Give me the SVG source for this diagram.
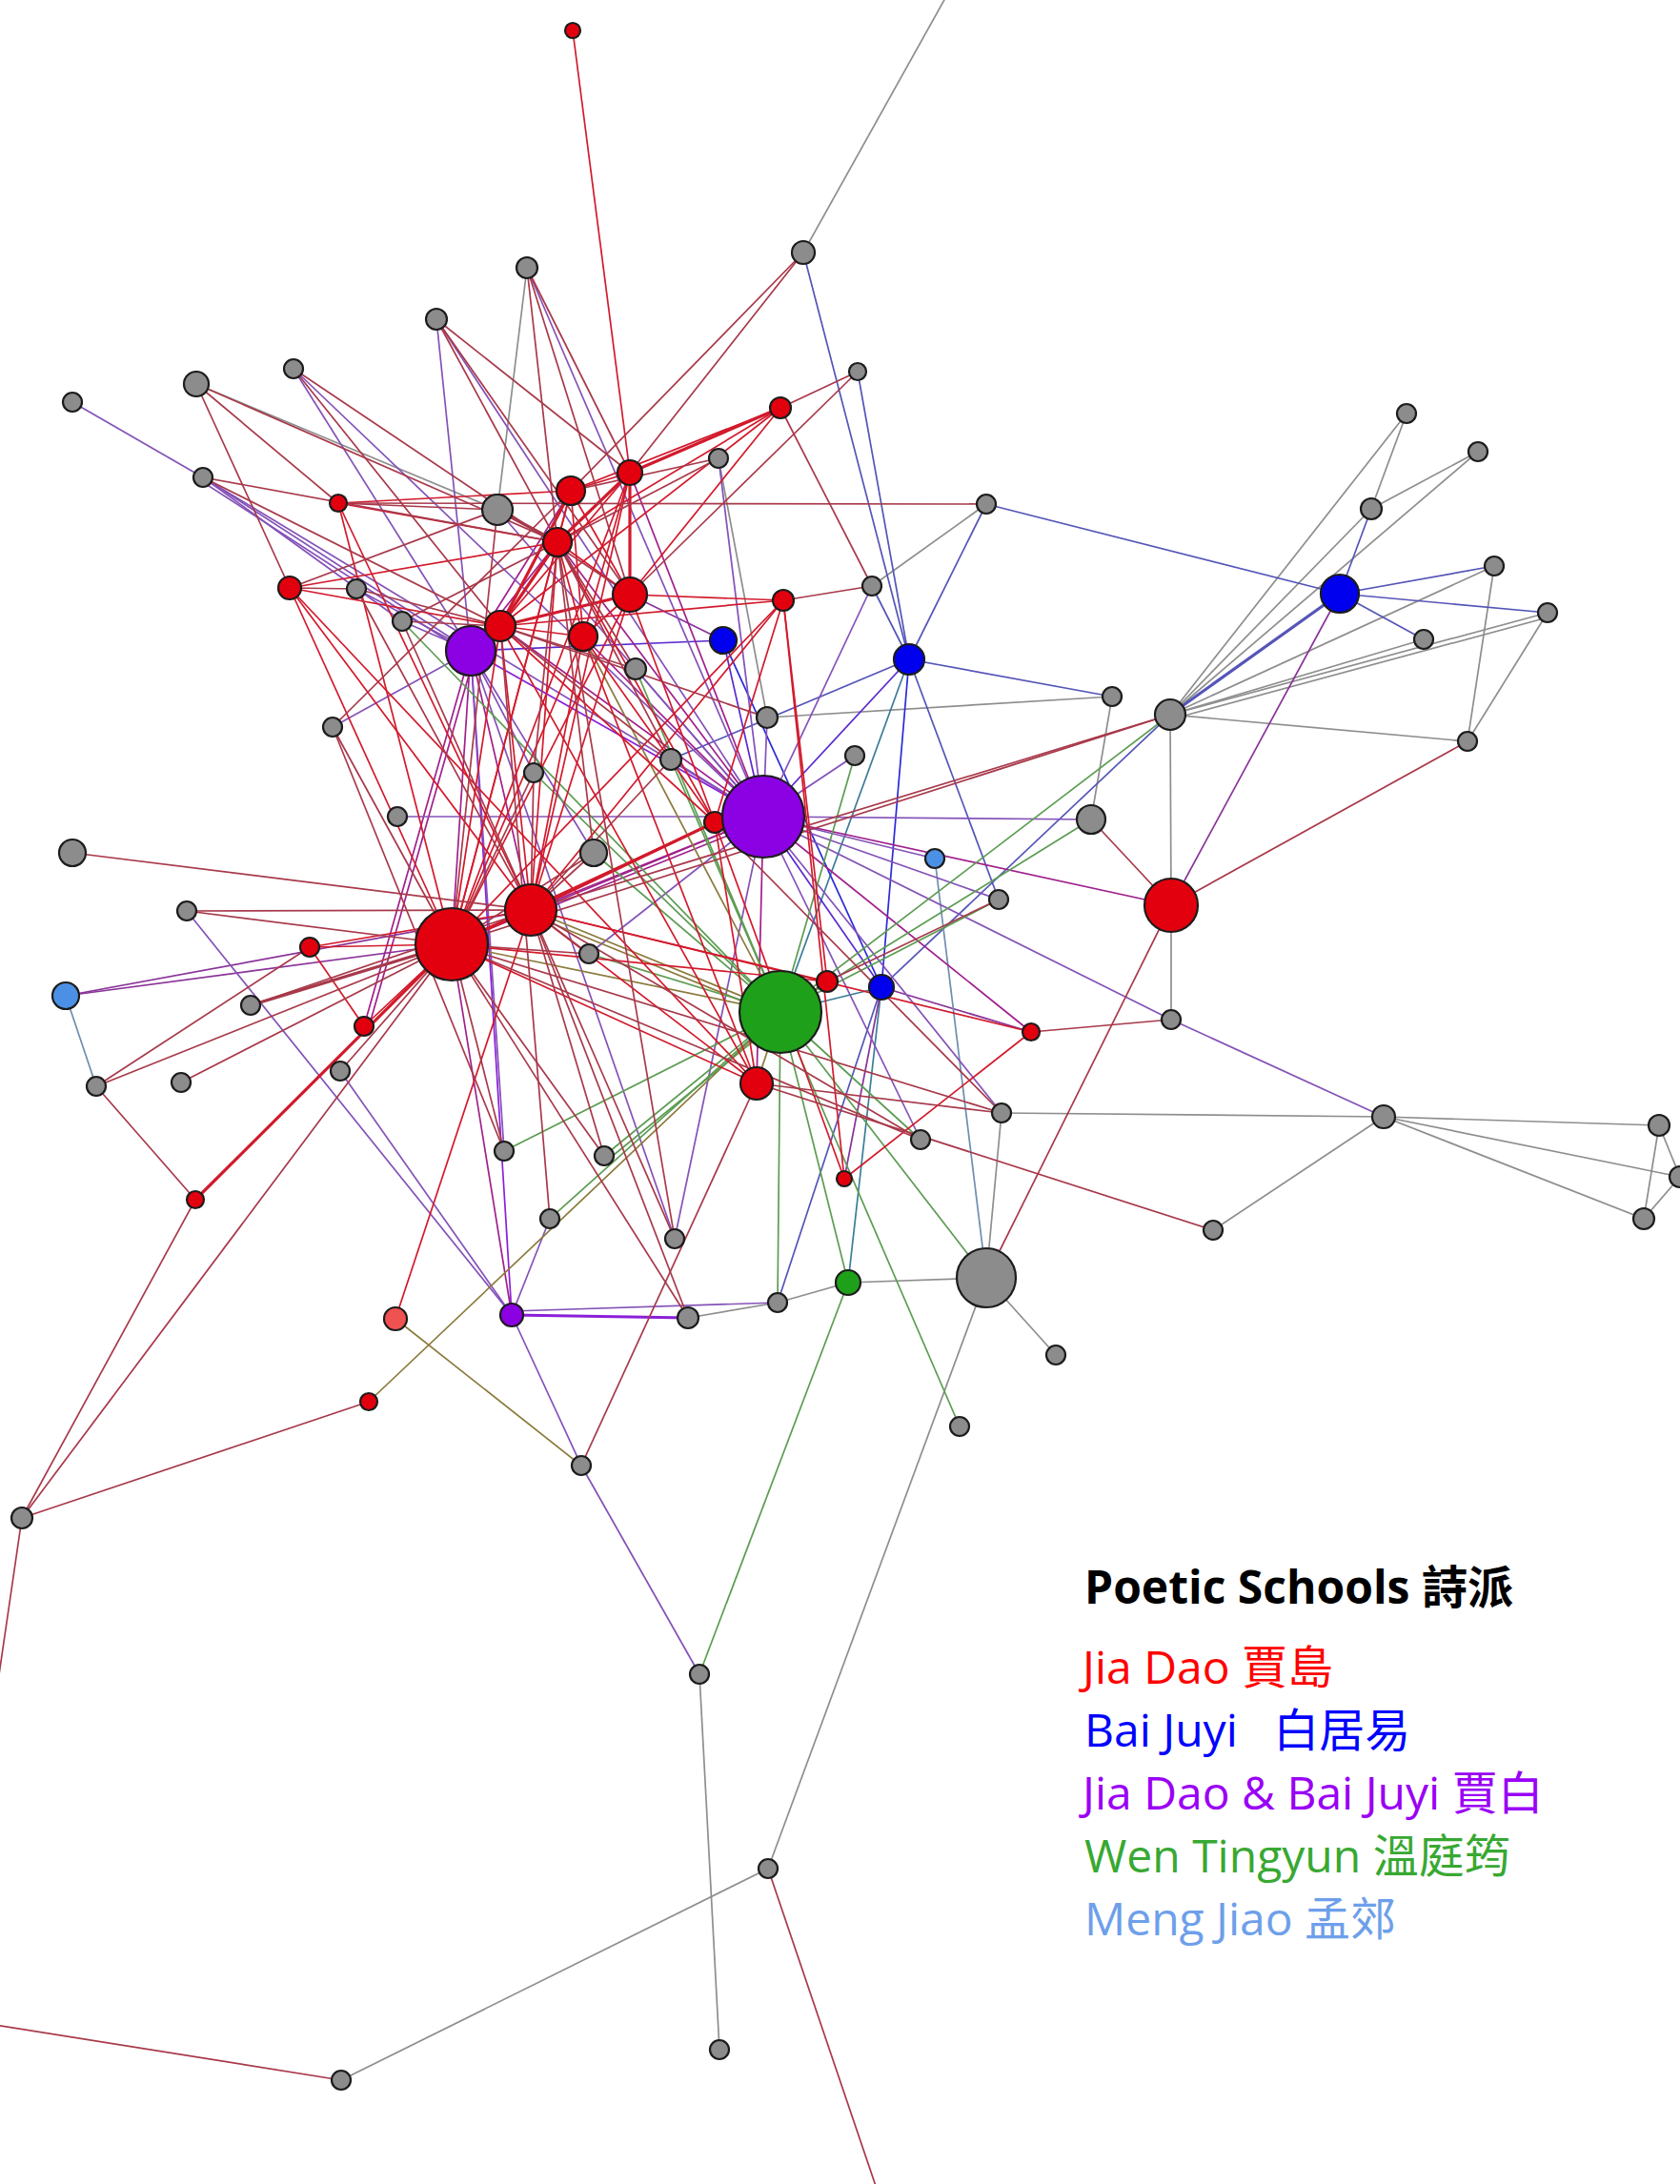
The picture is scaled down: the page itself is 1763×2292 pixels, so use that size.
<svg xmlns="http://www.w3.org/2000/svg" width="1763" height="2292" viewBox="0 0 1763 2292">
<style>
#connectors line{stroke-width:1.7;fill:none}
#connectors .w{stroke-width:3.2}
.rr{stroke:#D21A2C}.rg{stroke:#A8394A}.rp{stroke:#A0208C}.pg{stroke:#8452B8}.pp{stroke:#8A1FD8}
.bg{stroke:#5555B8}.bb{stroke:#2A2AD8}.bp{stroke:#5A2AD0}.tl{stroke:#3C7C98}.gg{stroke:#8E8E8E}
.gn{stroke:#5C9C52}.gr{stroke:#8C7A3C}.rb{stroke:#8A3399}.lb{stroke:#6E8EB0}
.n{stroke:#1c1c1c;stroke-width:2.2}
.red{fill:#E3000E}.gray{fill:#8C8C8C}.blue{fill:#0000EE}.purple{fill:#8C00E4}.green{fill:#1FA01A}.lblue{fill:#4C90E6}.lred{fill:#F05252}
.lg{font-family:"Open Sans","Noto Sans","Noto Sans CJK TC",sans-serif;font-size:48px}
</style>
<rect width="1763" height="2292" fill="#fff"/>
<g id="connectors">
<line class="gg" x1="843" y1="265" x2="992" y2="-2"/>
<line class="gg" x1="1228" y1="750" x2="1476" y2="434"/>
<line class="gg" x1="1228" y1="750" x2="1551" y2="474"/>
<line class="gg" x1="1228" y1="750" x2="1439" y2="534"/>
<line class="gg" x1="1228" y1="750" x2="1568" y2="594"/>
<line class="gg" x1="1228" y1="750" x2="1624" y2="643"/>
<line class="gg" x1="1228" y1="755" x2="1624" y2="648"/>
<line class="gg" x1="1228" y1="750" x2="1494" y2="671"/>
<line class="gg" x1="1228" y1="750" x2="1540" y2="778"/>
<line class="gg" x1="1476" y1="434" x2="1439" y2="534"/>
<line class="gg" x1="1551" y1="474" x2="1439" y2="534"/>
<line class="gg" x1="1568" y1="594" x2="1540" y2="778"/>
<line class="gg" x1="1624" y1="643" x2="1540" y2="778"/>
<line class="gg" x1="1228" y1="750" x2="1229" y2="950"/>
<line class="gg" x1="1229" y1="950" x2="1229" y2="1070"/>
<line class="gg" x1="1167" y1="731" x2="1145" y2="860"/>
<line class="gg" x1="805" y1="753" x2="1167" y2="731"/>
<line class="gg" x1="1452" y1="1172" x2="1051" y2="1168"/>
<line class="gg" x1="1452" y1="1172" x2="1741" y2="1181"/>
<line class="gg" x1="1452" y1="1172" x2="1763" y2="1235"/>
<line class="gg" x1="1452" y1="1172" x2="1725" y2="1279"/>
<line class="gg" x1="1452" y1="1172" x2="1273" y2="1291"/>
<line class="gg" x1="1741" y1="1181" x2="1725" y2="1279"/>
<line class="gg" x1="1741" y1="1181" x2="1763" y2="1235"/>
<line class="gg" x1="1763" y1="1235" x2="1725" y2="1279"/>
<line class="gg" x1="1035" y1="1341" x2="890" y2="1346"/>
<line class="gg" x1="1035" y1="1341" x2="1108" y2="1422"/>
<line class="gg" x1="1035" y1="1341" x2="806" y2="1961"/>
<line class="gg" x1="1035" y1="1341" x2="1051" y2="1168"/>
<line class="gg" x1="806" y1="1961" x2="358" y2="2183"/>
<line class="gg" x1="734" y1="1757" x2="755" y2="2151"/>
<line class="gg" x1="816" y1="1367" x2="722" y2="1383"/>
<line class="gg" x1="816" y1="1367" x2="890" y2="1346"/>
<line class="gg" x1="553" y1="281" x2="522" y2="535"/>
<line class="gg" x1="754" y1="481" x2="805" y2="753"/>
<line class="gg" x1="206" y1="403" x2="522" y2="535"/>
<line class="gg" x1="915" y1="615" x2="1035" y2="529"/>
<line class="bg" x1="843" y1="265" x2="954" y2="692"/>
<line class="bg" x1="900" y1="390" x2="954" y2="692"/>
<line class="bg" x1="1035" y1="529" x2="1406" y2="623"/>
<line class="bg" x1="1035" y1="529" x2="954" y2="692"/>
<line class="bg" x1="1406" y1="623" x2="1439" y2="534"/>
<line class="bg" x1="1406" y1="623" x2="1568" y2="594"/>
<line class="bg" x1="1406" y1="623" x2="1624" y2="643"/>
<line class="bg" x1="1406" y1="623" x2="1494" y2="671"/>
<line class="bg w" x1="1406" y1="623" x2="1228" y2="750"/>
<line class="bg" x1="954" y1="692" x2="1167" y2="731"/>
<line class="bg" x1="954" y1="692" x2="1048" y2="944"/>
<line class="bg" x1="954" y1="692" x2="915" y2="615"/>
<line class="tl" x1="954" y1="692" x2="819" y2="1062"/>
<line class="bb" x1="954" y1="692" x2="925" y2="1036"/>
<line class="bp" x1="954" y1="692" x2="801" y2="857"/>
<line class="bg" x1="954" y1="692" x2="704" y2="797"/>
<line class="bp" x1="759" y1="672" x2="801" y2="857"/>
<line class="bb" x1="759" y1="672" x2="925" y2="1036"/>
<line class="bp" x1="759" y1="672" x2="494" y2="683"/>
<line class="rb" x1="759" y1="672" x2="661" y2="624"/>
<line class="bg" x1="1228" y1="750" x2="925" y2="1036"/>
<line class="tl" x1="925" y1="1036" x2="890" y2="1346"/>
<line class="bg" x1="925" y1="1036" x2="816" y2="1367"/>
<line class="rb" x1="925" y1="1036" x2="1082" y2="1083"/>
<line class="rb" x1="925" y1="1036" x2="886" y2="1237"/>
<line class="bp" x1="925" y1="1036" x2="801" y2="857"/>
<line class="pg" x1="981" y1="901" x2="801" y2="857"/>
<line class="lb" x1="981" y1="901" x2="1035" y2="1341"/>
<line class="lb" x1="69" y1="1045" x2="101" y2="1140"/>
<line class="rb" x1="69" y1="1045" x2="474" y2="991"/>
<line class="rb" x1="69" y1="1045" x2="557" y2="955"/>
<line class="pg" x1="76" y1="422" x2="213" y2="501"/>
<line class="pg" x1="213" y1="501" x2="494" y2="683"/>
<line class="pg" x1="213" y1="506" x2="494" y2="688"/>
<line class="pg" x1="213" y1="501" x2="801" y2="857"/>
<line class="pg" x1="213" y1="501" x2="422" y2="652"/>
<line class="pg" x1="458" y1="335" x2="494" y2="683"/>
<line class="pg" x1="308" y1="387" x2="494" y2="683"/>
<line class="rp" x1="494" y1="683" x2="382" y2="1077"/>
<line class="rp" x1="499" y1="684" x2="387" y2="1078"/>
<line class="pp" x1="494" y1="683" x2="537" y2="1380"/>
<line class="rp" x1="494" y1="683" x2="474" y2="991"/>
<line class="rp" x1="494" y1="683" x2="525" y2="657"/>
<line class="pg" x1="494" y1="683" x2="374" y2="618"/>
<line class="pg" x1="494" y1="683" x2="422" y2="652"/>
<line class="rp" x1="494" y1="683" x2="585" y2="569"/>
<line class="rp" x1="494" y1="683" x2="557" y2="955"/>
<line class="pg" x1="494" y1="683" x2="623" y2="895"/>
<line class="pp" x1="494" y1="683" x2="801" y2="857"/>
<line class="pg" x1="494" y1="683" x2="560" y2="811"/>
<line class="pg" x1="494" y1="683" x2="708" y2="1300"/>
<line class="pg" x1="494" y1="683" x2="529" y2="1208"/>
<line class="pg" x1="494" y1="683" x2="349" y2="763"/>
<line class="rp" x1="494" y1="683" x2="599" y2="515"/>
<line class="pg" x1="801" y1="857" x2="417" y2="857"/>
<line class="rp" x1="801" y1="857" x2="750" y2="863"/>
<line class="pg" x1="801" y1="857" x2="805" y2="753"/>
<line class="pg" x1="801" y1="857" x2="754" y2="481"/>
<line class="pg" x1="801" y1="857" x2="667" y2="702"/>
<line class="pg" x1="801" y1="857" x2="704" y2="797"/>
<line class="rp" x1="801" y1="857" x2="474" y2="991"/>
<line class="rp" x1="801" y1="857" x2="557" y2="955"/>
<line class="rp" x1="801" y1="862" x2="557" y2="960"/>
<line class="rp" x1="801" y1="857" x2="794" y2="1137"/>
<line class="rp" x1="801" y1="857" x2="1229" y2="950"/>
<line class="rp" x1="801" y1="857" x2="1082" y2="1083"/>
<line class="pg" x1="801" y1="857" x2="1048" y2="944"/>
<line class="pg" x1="801" y1="857" x2="1145" y2="860"/>
<line class="pg" x1="801" y1="857" x2="618" y2="1001"/>
<line class="pg" x1="801" y1="857" x2="966" y2="1196"/>
<line class="pg" x1="801" y1="857" x2="708" y2="1300"/>
<line class="rp" x1="801" y1="857" x2="525" y2="657"/>
<line class="rp" x1="801" y1="857" x2="585" y2="569"/>
<line class="rp" x1="801" y1="857" x2="612" y2="668"/>
<line class="pg" x1="801" y1="857" x2="522" y2="535"/>
<line class="pg" x1="801" y1="857" x2="458" y2="335"/>
<line class="pg" x1="801" y1="857" x2="915" y2="615"/>
<line class="pg" x1="801" y1="857" x2="897" y2="793"/>
<line class="pg" x1="801" y1="857" x2="1229" y2="1070"/>
<line class="pg" x1="801" y1="857" x2="553" y2="281"/>
<line class="rp" x1="801" y1="857" x2="661" y2="496"/>
<line class="pg" x1="801" y1="857" x2="308" y2="387"/>
<line class="pg" x1="801" y1="857" x2="1051" y2="1168"/>
<line class="pg" x1="1229" y1="1070" x2="1452" y2="1172"/>
<line class="pp w" x1="537" y1="1380" x2="722" y2="1383"/>
<line class="pg" x1="537" y1="1376" x2="816" y2="1367"/>
<line class="pg" x1="537" y1="1380" x2="610" y2="1538"/>
<line class="pg" x1="610" y1="1538" x2="734" y2="1757"/>
<line class="pg" x1="537" y1="1380" x2="577" y2="1279"/>
<line class="pg" x1="537" y1="1380" x2="357" y2="1124"/>
<line class="rp" x1="537" y1="1380" x2="474" y2="991"/>
<line class="pg" x1="537" y1="1380" x2="196" y2="956"/>
<line class="gr" x1="819" y1="1062" x2="557" y2="955"/>
<line class="gr" x1="819" y1="1067" x2="557" y2="960"/>
<line class="gr" x1="819" y1="1062" x2="474" y2="991"/>
<line class="gr" x1="819" y1="1062" x2="868" y2="1030"/>
<line class="tl" x1="819" y1="1062" x2="925" y2="1036"/>
<line class="gn" x1="819" y1="1062" x2="816" y2="1367"/>
<line class="gn" x1="819" y1="1062" x2="890" y2="1346"/>
<line class="gn" x1="819" y1="1062" x2="1035" y2="1341"/>
<line class="gn" x1="819" y1="1062" x2="1007" y2="1497"/>
<line class="gr" x1="819" y1="1062" x2="387" y2="1471"/>
<line class="gn" x1="819" y1="1062" x2="529" y2="1208"/>
<line class="gn" x1="819" y1="1062" x2="634" y2="1213"/>
<line class="gn" x1="823" y1="1066" x2="638" y2="1217"/>
<line class="gn" x1="819" y1="1062" x2="577" y2="1279"/>
<line class="gn" x1="819" y1="1062" x2="618" y2="1001"/>
<line class="gn" x1="819" y1="1062" x2="623" y2="895"/>
<line class="gn" x1="819" y1="1062" x2="667" y2="702"/>
<line class="gn" x1="819" y1="1062" x2="897" y2="793"/>
<line class="gn" x1="819" y1="1062" x2="1048" y2="944"/>
<line class="gn" x1="819" y1="1062" x2="1228" y2="750"/>
<line class="gn" x1="819" y1="1062" x2="1145" y2="860"/>
<line class="gr" x1="819" y1="1062" x2="794" y2="1137"/>
<line class="gn" x1="819" y1="1062" x2="704" y2="797"/>
<line class="gr" x1="819" y1="1062" x2="612" y2="668"/>
<line class="gn" x1="819" y1="1062" x2="422" y2="652"/>
<line class="gn" x1="819" y1="1062" x2="966" y2="1196"/>
<line class="gn" x1="819" y1="1062" x2="560" y2="811"/>
<line class="gn" x1="890" y1="1346" x2="734" y2="1757"/>
<line class="rr" x1="601" y1="32" x2="661" y2="496"/>
<line class="rr w" x1="819" y1="428" x2="661" y2="496"/>
<line class="rr" x1="819" y1="428" x2="599" y2="515"/>
<line class="rr" x1="819" y1="428" x2="585" y2="569"/>
<line class="rr" x1="819" y1="428" x2="525" y2="657"/>
<line class="rr" x1="819" y1="428" x2="661" y2="624"/>
<line class="rr" x1="661" y1="496" x2="599" y2="515"/>
<line class="rr w" x1="661" y1="496" x2="585" y2="569"/>
<line class="rr w" x1="661" y1="496" x2="661" y2="624"/>
<line class="rr" x1="661" y1="496" x2="525" y2="657"/>
<line class="rr" x1="661" y1="496" x2="612" y2="668"/>
<line class="rr" x1="661" y1="496" x2="557" y2="955"/>
<line class="rr" x1="661" y1="496" x2="474" y2="991"/>
<line class="rr" x1="599" y1="515" x2="585" y2="569"/>
<line class="rr w" x1="599" y1="515" x2="525" y2="657"/>
<line class="rr" x1="599" y1="515" x2="355" y2="528"/>
<line class="rr" x1="599" y1="515" x2="661" y2="624"/>
<line class="rr" x1="599" y1="515" x2="474" y2="991"/>
<line class="rr" x1="599" y1="515" x2="612" y2="668"/>
<line class="rr w" x1="585" y1="569" x2="525" y2="657"/>
<line class="rr" x1="585" y1="569" x2="661" y2="624"/>
<line class="rr" x1="585" y1="569" x2="612" y2="668"/>
<line class="rr" x1="585" y1="569" x2="474" y2="991"/>
<line class="rr" x1="585" y1="569" x2="557" y2="955"/>
<line class="rr" x1="585" y1="569" x2="750" y2="863"/>
<line class="rr w" x1="661" y1="624" x2="525" y2="657"/>
<line class="rr" x1="661" y1="624" x2="612" y2="668"/>
<line class="rr" x1="661" y1="624" x2="557" y2="955"/>
<line class="rr" x1="661" y1="624" x2="750" y2="863"/>
<line class="rr" x1="661" y1="624" x2="474" y2="991"/>
<line class="rr" x1="661" y1="624" x2="822" y2="630"/>
<line class="rr" x1="822" y1="630" x2="525" y2="657"/>
<line class="rr" x1="822" y1="630" x2="750" y2="863"/>
<line class="rr" x1="822" y1="630" x2="557" y2="955"/>
<line class="rr" x1="822" y1="630" x2="474" y2="991"/>
<line class="rr" x1="525" y1="657" x2="612" y2="668"/>
<line class="rr" x1="525" y1="657" x2="474" y2="991"/>
<line class="rr" x1="525" y1="657" x2="557" y2="955"/>
<line class="rr" x1="525" y1="657" x2="750" y2="863"/>
<line class="rr" x1="525" y1="657" x2="794" y2="1137"/>
<line class="rr" x1="612" y1="668" x2="474" y2="991"/>
<line class="rr" x1="612" y1="668" x2="557" y2="955"/>
<line class="rr" x1="612" y1="668" x2="750" y2="863"/>
<line class="rr" x1="612" y1="668" x2="794" y2="1137"/>
<line class="rr w" x1="557" y1="955" x2="474" y2="991"/>
<line class="rr" x1="557" y1="955" x2="325" y2="994"/>
<line class="rr w" x1="557" y1="955" x2="750" y2="863"/>
<line class="rr" x1="557" y1="955" x2="794" y2="1137"/>
<line class="rr" x1="557" y1="955" x2="868" y2="1030"/>
<line class="rr" x1="474" y1="991" x2="325" y2="994"/>
<line class="rr" x1="474" y1="991" x2="382" y2="1077"/>
<line class="rr w" x1="474" y1="991" x2="205" y2="1259"/>
<line class="rr" x1="474" y1="991" x2="750" y2="863"/>
<line class="rr" x1="474" y1="991" x2="794" y2="1137"/>
<line class="rr" x1="474" y1="991" x2="304" y2="617"/>
<line class="rr" x1="474" y1="991" x2="868" y2="1030"/>
<line class="rr" x1="474" y1="991" x2="355" y2="528"/>
<line class="rr" x1="304" y1="617" x2="525" y2="657"/>
<line class="rr" x1="304" y1="617" x2="585" y2="569"/>
<line class="rr" x1="304" y1="617" x2="794" y2="1137"/>
<line class="rr" x1="304" y1="617" x2="557" y2="955"/>
<line class="rr" x1="355" y1="528" x2="557" y2="955"/>
<line class="rr" x1="355" y1="528" x2="585" y2="569"/>
<line class="rr" x1="325" y1="994" x2="382" y2="1077"/>
<line class="rr" x1="1082" y1="1083" x2="886" y2="1237"/>
<line class="rr" x1="794" y1="1137" x2="750" y2="863"/>
<line class="rr" x1="415" y1="1384" x2="557" y2="955"/>
<line class="rr" x1="886" y1="1237" x2="750" y2="863"/>
<line class="rr" x1="886" y1="1237" x2="822" y2="630"/>
<line class="rr" x1="868" y1="1030" x2="822" y2="630"/>
<line class="rr" x1="557" y1="955" x2="1082" y2="1083"/>
<line class="rg" x1="553" y1="281" x2="661" y2="496"/>
<line class="rg" x1="553" y1="281" x2="585" y2="569"/>
<line class="rg" x1="553" y1="281" x2="661" y2="624"/>
<line class="rg" x1="458" y1="335" x2="661" y2="496"/>
<line class="rg" x1="458" y1="335" x2="661" y2="624"/>
<line class="rg" x1="458" y1="335" x2="585" y2="569"/>
<line class="rg" x1="308" y1="387" x2="525" y2="657"/>
<line class="rg" x1="308" y1="387" x2="661" y2="624"/>
<line class="rg" x1="206" y1="403" x2="304" y2="617"/>
<line class="rg" x1="206" y1="403" x2="355" y2="528"/>
<line class="rg" x1="206" y1="403" x2="585" y2="569"/>
<line class="rg" x1="900" y1="390" x2="819" y2="428"/>
<line class="rg" x1="900" y1="390" x2="661" y2="624"/>
<line class="rg" x1="754" y1="481" x2="585" y2="569"/>
<line class="rg" x1="754" y1="481" x2="599" y2="515"/>
<line class="rg w" x1="522" y1="535" x2="585" y2="569"/>
<line class="rg" x1="522" y1="535" x2="355" y2="528"/>
<line class="rg" x1="522" y1="535" x2="304" y2="617"/>
<line class="rg" x1="522" y1="535" x2="474" y2="991"/>
<line class="rg" x1="1035" y1="529" x2="355" y2="528"/>
<line class="rg" x1="915" y1="615" x2="822" y2="630"/>
<line class="rg" x1="915" y1="615" x2="819" y2="428"/>
<line class="rg" x1="374" y1="618" x2="304" y2="617"/>
<line class="rg" x1="374" y1="618" x2="525" y2="657"/>
<line class="rg" x1="374" y1="618" x2="557" y2="955"/>
<line class="rg" x1="422" y1="652" x2="525" y2="657"/>
<line class="rg" x1="422" y1="652" x2="585" y2="569"/>
<line class="rg" x1="422" y1="652" x2="557" y2="955"/>
<line class="rg" x1="349" y1="763" x2="599" y2="515"/>
<line class="rg" x1="349" y1="763" x2="474" y2="991"/>
<line class="rg" x1="349" y1="763" x2="529" y2="1208"/>
<line class="rg" x1="560" y1="811" x2="585" y2="569"/>
<line class="rg" x1="560" y1="811" x2="557" y2="955"/>
<line class="rg" x1="560" y1="811" x2="474" y2="991"/>
<line class="rg" x1="623" y1="895" x2="557" y2="955"/>
<line class="rg" x1="623" y1="895" x2="585" y2="569"/>
<line class="rg" x1="623" y1="895" x2="474" y2="991"/>
<line class="rg" x1="76" y1="895" x2="557" y2="955"/>
<line class="rg" x1="196" y1="956" x2="474" y2="991"/>
<line class="rg" x1="196" y1="956" x2="557" y2="955"/>
<line class="rg" x1="618" y1="1001" x2="474" y2="991"/>
<line class="rg" x1="618" y1="1001" x2="557" y2="955"/>
<line class="rg w" x1="263" y1="1055" x2="474" y2="991"/>
<line class="rg" x1="263" y1="1055" x2="557" y2="955"/>
<line class="rg" x1="357" y1="1124" x2="474" y2="991"/>
<line class="rg" x1="190" y1="1136" x2="474" y2="991"/>
<line class="rg" x1="101" y1="1140" x2="474" y2="991"/>
<line class="rg" x1="101" y1="1140" x2="325" y2="994"/>
<line class="rg" x1="101" y1="1140" x2="205" y2="1259"/>
<line class="rg" x1="1051" y1="1168" x2="474" y2="991"/>
<line class="rg" x1="1051" y1="1168" x2="794" y2="1137"/>
<line class="rg" x1="529" y1="1208" x2="474" y2="991"/>
<line class="rg" x1="634" y1="1213" x2="557" y2="955"/>
<line class="rg" x1="634" y1="1213" x2="474" y2="991"/>
<line class="rg" x1="1273" y1="1291" x2="794" y2="1137"/>
<line class="rg" x1="577" y1="1279" x2="525" y2="657"/>
<line class="rg" x1="708" y1="1300" x2="557" y2="955"/>
<line class="rg" x1="708" y1="1300" x2="585" y2="569"/>
<line class="rg" x1="722" y1="1383" x2="557" y2="955"/>
<line class="rg" x1="722" y1="1383" x2="474" y2="991"/>
<line class="rg" x1="610" y1="1538" x2="794" y2="1137"/>
<line class="gr" x1="610" y1="1538" x2="415" y2="1384"/>
<line class="rg" x1="23" y1="1593" x2="474" y2="991"/>
<line class="rg" x1="23" y1="1593" x2="205" y2="1259"/>
<line class="rg" x1="23" y1="1593" x2="387" y2="1471"/>
<line class="rg" x1="23" y1="1593" x2="-5" y2="1785"/>
<line class="rg" x1="358" y1="2183" x2="-5" y2="2125"/>
<line class="rg" x1="806" y1="1961" x2="920" y2="2297"/>
<line class="rg" x1="1229" y1="950" x2="1035" y2="1341"/>
<line class="rg" x1="1229" y1="950" x2="1145" y2="860"/>
<line class="rg" x1="1229" y1="950" x2="1540" y2="778"/>
<line class="rb" x1="1406" y1="623" x2="1229" y2="950"/>
<line class="rg" x1="1082" y1="1083" x2="1229" y2="1070"/>
<line class="rg" x1="1228" y1="750" x2="557" y2="955"/>
<line class="rg" x1="1228" y1="750" x2="474" y2="991"/>
<line class="rg" x1="868" y1="1030" x2="1048" y2="944"/>
<line class="rg" x1="966" y1="1196" x2="557" y2="955"/>
<line class="rg" x1="966" y1="1196" x2="474" y2="991"/>
<line class="rg" x1="704" y1="797" x2="525" y2="657"/>
<line class="rg" x1="704" y1="797" x2="585" y2="569"/>
<line class="rg" x1="704" y1="797" x2="557" y2="955"/>
<line class="rg" x1="667" y1="702" x2="585" y2="569"/>
<line class="rg" x1="667" y1="702" x2="525" y2="657"/>
<line class="rg" x1="805" y1="753" x2="525" y2="657"/>
<line class="rg" x1="750" y1="863" x2="1051" y2="1168"/>
<line class="rg" x1="843" y1="265" x2="661" y2="496"/>
<line class="rg" x1="843" y1="265" x2="599" y2="515"/>
<line class="rg" x1="213" y1="501" x2="525" y2="657"/>
<line class="rg" x1="213" y1="501" x2="585" y2="569"/>
</g>
<g id="nodes">
<g id="n-A1"><circle class="n gray" cx="843" cy="265" r="12"/></g>
<g id="n-A2"><circle class="n gray" cx="553" cy="281" r="11"/></g>
<g id="n-A3"><circle class="n gray" cx="458" cy="335" r="11"/></g>
<g id="n-A4"><circle class="n gray" cx="308" cy="387" r="10"/></g>
<g id="n-A5"><circle class="n gray" cx="206" cy="403" r="13"/></g>
<g id="n-A6"><circle class="n gray" cx="76" cy="422" r="10"/></g>
<g id="n-A7"><circle class="n gray" cx="900" cy="390" r="9"/></g>
<g id="n-A8"><circle class="n gray" cx="213" cy="501" r="10"/></g>
<g id="n-A9"><circle class="n gray" cx="754" cy="481" r="10"/></g>
<g id="n-A10"><circle class="n gray" cx="522" cy="535" r="16"/></g>
<g id="n-A11"><circle class="n gray" cx="1035" cy="529" r="10"/></g>
<g id="n-A12"><circle class="n gray" cx="915" cy="615" r="10"/></g>
<g id="n-A13"><circle class="n gray" cx="374" cy="618" r="10"/></g>
<g id="n-A14"><circle class="n gray" cx="422" cy="652" r="10"/></g>
<g id="n-A15"><circle class="n gray" cx="667" cy="702" r="11"/></g>
<g id="n-A16"><circle class="n gray" cx="805" cy="753" r="11"/></g>
<g id="n-A17"><circle class="n gray" cx="1167" cy="731" r="10"/></g>
<g id="n-A18"><circle class="n gray" cx="1228" cy="750" r="16"/></g>
<g id="n-A19"><circle class="n gray" cx="349" cy="763" r="10"/></g>
<g id="n-A20"><circle class="n gray" cx="704" cy="797" r="11"/></g>
<g id="n-A21"><circle class="n gray" cx="897" cy="793" r="10"/></g>
<g id="n-A22"><circle class="n gray" cx="560" cy="811" r="10"/></g>
<g id="n-A23"><circle class="n gray" cx="417" cy="857" r="10"/></g>
<g id="n-A24"><circle class="n gray" cx="623" cy="895" r="14"/></g>
<g id="n-A25"><circle class="n gray" cx="76" cy="895" r="14"/></g>
<g id="n-A26"><circle class="n gray" cx="1145" cy="860" r="15"/></g>
<g id="n-A27"><circle class="n gray" cx="1048" cy="944" r="10"/></g>
<g id="n-A28"><circle class="n gray" cx="196" cy="956" r="10"/></g>
<g id="n-A29"><circle class="n gray" cx="618" cy="1001" r="10"/></g>
<g id="n-A30"><circle class="n gray" cx="263" cy="1055" r="10"/></g>
<g id="n-A31"><circle class="n gray" cx="1229" cy="1070" r="10"/></g>
<g id="n-A32"><circle class="n gray" cx="357" cy="1124" r="10"/></g>
<g id="n-A33"><circle class="n gray" cx="190" cy="1136" r="10"/></g>
<g id="n-A34"><circle class="n gray" cx="101" cy="1140" r="10"/></g>
<g id="n-A35"><circle class="n gray" cx="1051" cy="1168" r="10"/></g>
<g id="n-A36"><circle class="n gray" cx="1452" cy="1172" r="12"/></g>
<g id="n-A37"><circle class="n gray" cx="1741" cy="1181" r="11"/></g>
<g id="n-A38"><circle class="n gray" cx="1763" cy="1235" r="11"/></g>
<g id="n-A39"><circle class="n gray" cx="1725" cy="1279" r="11"/></g>
<g id="n-A40"><circle class="n gray" cx="529" cy="1208" r="10"/></g>
<g id="n-A41"><circle class="n gray" cx="634" cy="1213" r="10"/></g>
<g id="n-A42"><circle class="n gray" cx="966" cy="1196" r="10"/></g>
<g id="n-A43"><circle class="n gray" cx="1273" cy="1291" r="10"/></g>
<g id="n-A44"><circle class="n gray" cx="577" cy="1279" r="10"/></g>
<g id="n-A45"><circle class="n gray" cx="708" cy="1300" r="10"/></g>
<g id="n-A46"><circle class="n gray" cx="1035" cy="1341" r="31"/></g>
<g id="n-A47"><circle class="n gray" cx="816" cy="1367" r="10"/></g>
<g id="n-A48"><circle class="n gray" cx="722" cy="1383" r="11"/></g>
<g id="n-A49"><circle class="n gray" cx="1108" cy="1422" r="10"/></g>
<g id="n-A50"><circle class="n gray" cx="1007" cy="1497" r="10"/></g>
<g id="n-A51"><circle class="n gray" cx="610" cy="1538" r="10"/></g>
<g id="n-A52"><circle class="n gray" cx="23" cy="1593" r="11"/></g>
<g id="n-A53"><circle class="n gray" cx="734" cy="1757" r="10"/></g>
<g id="n-A54"><circle class="n gray" cx="806" cy="1961" r="10"/></g>
<g id="n-A55"><circle class="n gray" cx="755" cy="2151" r="10"/></g>
<g id="n-A56"><circle class="n gray" cx="358" cy="2183" r="10"/></g>
<g id="n-T1"><circle class="n gray" cx="1476" cy="434" r="10"/></g>
<g id="n-T2"><circle class="n gray" cx="1551" cy="474" r="10"/></g>
<g id="n-T3"><circle class="n gray" cx="1439" cy="534" r="11"/></g>
<g id="n-T4"><circle class="n gray" cx="1568" cy="594" r="10"/></g>
<g id="n-T5"><circle class="n gray" cx="1624" cy="643" r="10"/></g>
<g id="n-T6"><circle class="n gray" cx="1494" cy="671" r="10"/></g>
<g id="n-T7"><circle class="n gray" cx="1540" cy="778" r="10"/></g>
<g id="n-P1"><circle class="n purple" cx="494" cy="683" r="26"/></g>
<g id="n-R1"><circle class="n red" cx="601" cy="32" r="8"/></g>
<g id="n-R2"><circle class="n red" cx="819" cy="428" r="11"/></g>
<g id="n-R3"><circle class="n red" cx="661" cy="496" r="13"/></g>
<g id="n-R4"><circle class="n red" cx="599" cy="515" r="15"/></g>
<g id="n-R5"><circle class="n red" cx="355" cy="528" r="9"/></g>
<g id="n-R6"><circle class="n red" cx="585" cy="569" r="15"/></g>
<g id="n-R7"><circle class="n red" cx="304" cy="617" r="12"/></g>
<g id="n-R8"><circle class="n red" cx="661" cy="624" r="18"/></g>
<g id="n-R9"><circle class="n red" cx="822" cy="630" r="11"/></g>
<g id="n-R10"><circle class="n red" cx="525" cy="657" r="16"/></g>
<g id="n-R11"><circle class="n red" cx="612" cy="668" r="15"/></g>
<g id="n-R12"><circle class="n red" cx="750" cy="863" r="11"/></g>
<g id="n-R13"><circle class="n red" cx="557" cy="955" r="27"/></g>
<g id="n-R14"><circle class="n red" cx="474" cy="991" r="38"/></g>
<g id="n-R15"><circle class="n red" cx="325" cy="994" r="10"/></g>
<g id="n-R16"><circle class="n red" cx="382" cy="1077" r="10"/></g>
<g id="n-R18"><circle class="n red" cx="1082" cy="1083" r="9"/></g>
<g id="n-R19"><circle class="n red" cx="794" cy="1137" r="17"/></g>
<g id="n-R20"><circle class="n red" cx="1229" cy="950" r="28"/></g>
<g id="n-R21"><circle class="n red" cx="886" cy="1237" r="8"/></g>
<g id="n-R22"><circle class="n red" cx="205" cy="1259" r="9"/></g>
<g id="n-R23"><circle class="n lred" cx="415" cy="1384" r="12"/></g>
<g id="n-R24"><circle class="n red" cx="387" cy="1471" r="9"/></g>
<g id="n-B1"><circle class="n blue" cx="759" cy="672" r="14"/></g>
<g id="n-B2"><circle class="n blue" cx="954" cy="692" r="16"/></g>
<g id="n-B3"><circle class="n blue" cx="1406" cy="623" r="20"/></g>
<g id="n-B4"><circle class="n blue" cx="925" cy="1036" r="13"/></g>
<g id="n-LB1"><circle class="n lblue" cx="981" cy="901" r="10"/></g>
<g id="n-LB2"><circle class="n lblue" cx="69" cy="1045" r="14"/></g>
<g id="n-P2"><circle class="n purple" cx="801" cy="857" r="43"/></g>
<g id="n-P3"><circle class="n purple" cx="537" cy="1380" r="12"/></g>
<g id="n-G1"><circle class="n green" cx="819" cy="1062" r="43"/></g>
<g id="n-G2"><circle class="n green" cx="890" cy="1346" r="13"/></g>
<g id="n-R17"><circle class="n red" cx="868" cy="1030" r="11"/></g>
</g>
<g id="legend" class="lg">
<text x="1138" y="1683" font-weight="bold" fill="#000">Poetic Schools 詩派</text>
<text x="1136" y="1767" fill="#FF0000">Jia Dao 賈島</text>
<text x="1138" y="1833" fill="#0000FF" xml:space="preserve">Bai Juyi   白居易</text>
<text x="1136" y="1899" fill="#9A00F5">Jia Dao &amp; Bai Juyi 賈白</text>
<text x="1138" y="1965" fill="#38A832">Wen Tingyun 溫庭筠</text>
<text x="1138" y="2031" fill="#6E9FEA">Meng Jiao 孟郊</text>
</g>
</svg>
